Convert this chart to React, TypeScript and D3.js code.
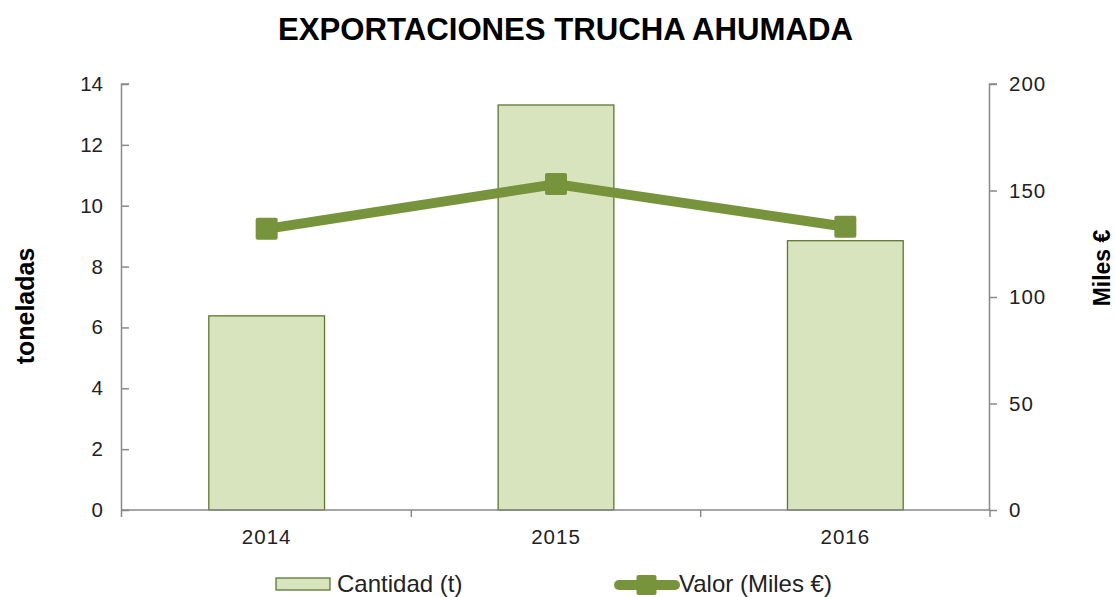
import React, { useEffect, useRef } from 'react';
import * as d3 from 'd3';

// data
const years = ['2014', '2015', '2016'];
const cantidad = [6.38, 13.31, 8.85]; // toneladas
const valor = [132, 153, 133]; // miles €
const leftTicks = [0, 2, 4, 6, 8, 10, 12, 14];
const rightTicks = [0, 50, 100, 150, 200];

const App: React.FC = () => {
  const ref = useRef<SVGSVGElement>(null);

  useEffect(() => {
    const W = 1115;
    const H = 597;
    const margin = { top: 84, right: 125, bottom: 87, left: 122 };
    const width = W - margin.left - margin.right;
    const height = H - margin.top - margin.bottom;
    const font = 'Liberation Sans, Arial, sans-serif';

    const root = d3.select(ref.current);
    root.selectAll('*').remove();
    const svg = root.append('g').attr('transform', `translate(${margin.left},${margin.top})`);

    // scales
    const x = d3.scaleBand().domain(years).range([0, width]);
    const yL = d3.scaleLinear().domain([0, 14]).range([height, 0]);
    const yR = d3.scaleLinear().domain([0, 200]).range([height, 0]);
    const barW = x.bandwidth() * 0.4;

    const axisColor = '#898989';

    // bars
    svg.append('g')
      .selectAll('rect')
      .data(cantidad)
      .join('rect')
      .attr('x', (d, i) => (x(years[i]) || 0) + (x.bandwidth() - barW) / 2)
      .attr('y', d => yL(d))
      .attr('width', barW)
      .attr('height', d => height - yL(d))
      .attr('fill', '#D7E4BD')
      .attr('stroke', '#5F7530')
      .attr('stroke-width', 1.3);

    // left axis
    const left = svg.append('g')
      .call(d3.axisLeft(yL).tickValues(leftTicks).tickSize(-7).tickPadding(19))
      .call(g => g.select('.domain').attr('stroke', axisColor).attr('stroke-width', 1.5).attr('d', `M-0.5,${height + 7}V0H7`));
    left.selectAll('.tick line').attr('stroke', axisColor).attr('stroke-width', 1.5);
    left.selectAll('.tick text').attr('font-family', font).attr('font-size', 20.5).attr('fill', '#222');

    // right axis
    const right = svg.append('g')
      .attr('transform', `translate(${width},0)`)
      .call(d3.axisRight(yR).tickValues(rightTicks).tickSize(7).tickPadding(12))
      .call(g => g.select('.domain').attr('stroke', axisColor).attr('stroke-width', 1.5).attr('d', `M7,0H-0.5V${height}`));
    right.selectAll('.tick line').attr('stroke', axisColor).attr('stroke-width', 1.5);
    right.selectAll('.tick text').attr('font-family', font).attr('font-size', 20.5).attr('letter-spacing', 1).attr('fill', '#222');

    // bottom axis
    const bottom = svg.append('g')
      .attr('transform', `translate(0,${height})`);
    bottom.append('line')
      .attr('x1', 0).attr('x2', width)
      .attr('stroke', axisColor).attr('stroke-width', 1.5);
    bottom.selectAll('line.sep')
      .data(years)
      .join('line')
      .attr('class', 'sep')
      .attr('x1', d => (x(d) || 0) + x.bandwidth())
      .attr('x2', d => (x(d) || 0) + x.bandwidth())
      .attr('y1', 0).attr('y2', 7)
      .attr('stroke', axisColor).attr('stroke-width', 1.5);
    bottom.selectAll('text')
      .data(years)
      .join('text')
      .attr('x', d => (x(d) || 0) + x.bandwidth() / 2)
      .attr('y', 33.5)
      .attr('text-anchor', 'middle')
      .attr('font-family', font)
      .attr('font-size', 20.5)
      .attr('letter-spacing', 1)
      .attr('fill', '#222')
      .text(d => d);

    // line
    const lineColor = '#77933C';
    const line = d3.line<number>()
      .x((d, i) => (x(years[i]) || 0) + x.bandwidth() / 2)
      .y(d => yR(d));
    svg.append('path')
      .datum(valor)
      .attr('d', line)
      .attr('fill', 'none')
      .attr('stroke', lineColor)
      .attr('stroke-width', 10)
      .attr('stroke-linejoin', 'round');
    svg.append('g')
      .selectAll('rect')
      .data(valor)
      .join('rect')
      .attr('x', (d, i) => (x(years[i]) || 0) + x.bandwidth() / 2 - 11)
      .attr('y', d => yR(d) - 11)
      .attr('width', 22)
      .attr('height', 22)
      .attr('rx', 2)
      .attr('fill', lineColor);

    // title
    root.append('text')
      .attr('x', 565.5)
      .attr('y', 40)
      .attr('text-anchor', 'middle')
      .attr('font-family', font)
      .attr('font-weight', 'bold')
      .attr('font-size', 32)
      .attr('textLength', 575)
      .attr('lengthAdjust', 'spacingAndGlyphs')
      .attr('fill', '#000')
      .text('EXPORTACIONES TRUCHA AHUMADA');

    // axis titles
    root.append('text')
      .attr('transform', `translate(34,306) rotate(-90)`)
      .attr('text-anchor', 'middle')
      .attr('font-family', font)
      .attr('font-weight', 'bold')
      .attr('font-size', 25)
      .text('toneladas');
    root.append('text')
      .attr('transform', `translate(1110,268) rotate(-90)`)
      .attr('text-anchor', 'middle')
      .attr('font-family', font)
      .attr('font-weight', 'bold')
      .attr('font-size', 23)
      .text('Miles €');

    // legend
    const lg = root.append('g').attr('transform', 'translate(276,571)');
    lg.append('rect')
      .attr('x', 0).attr('y', 7)
      .attr('width', 54).attr('height', 12)
      .attr('fill', '#D7E4BD').attr('stroke', '#5F7530').attr('stroke-width', 1.3);
    lg.append('text')
      .attr('x', 61).attr('y', 21)
      .attr('font-family', font).attr('font-size', 24).attr('fill', '#222')
      .text('Cantidad (t)');
    const lg2 = root.append('g').attr('transform', 'translate(615,571)');
    lg2.append('line')
      .attr('x1', 4).attr('x2', 60).attr('y1', 14).attr('y2', 14)
      .attr('stroke', lineColor).attr('stroke-width', 10).attr('stroke-linecap', 'round');
    lg2.append('rect')
      .attr('x', 21.5).attr('y', 4).attr('width', 20).attr('height', 20).attr('rx', 2)
      .attr('fill', lineColor);
    lg2.append('text')
      .attr('x', 64).attr('y', 21)
      .attr('font-family', font).attr('font-size', 24).attr('fill', '#222')
      .text('Valor (Miles €)');
  }, []);

  return (
    <svg ref={ref} width={1115} height={597}
      style={{ position: 'absolute', left: 0, top: 0, background: '#fff' }} />
  );
};

export default App;
